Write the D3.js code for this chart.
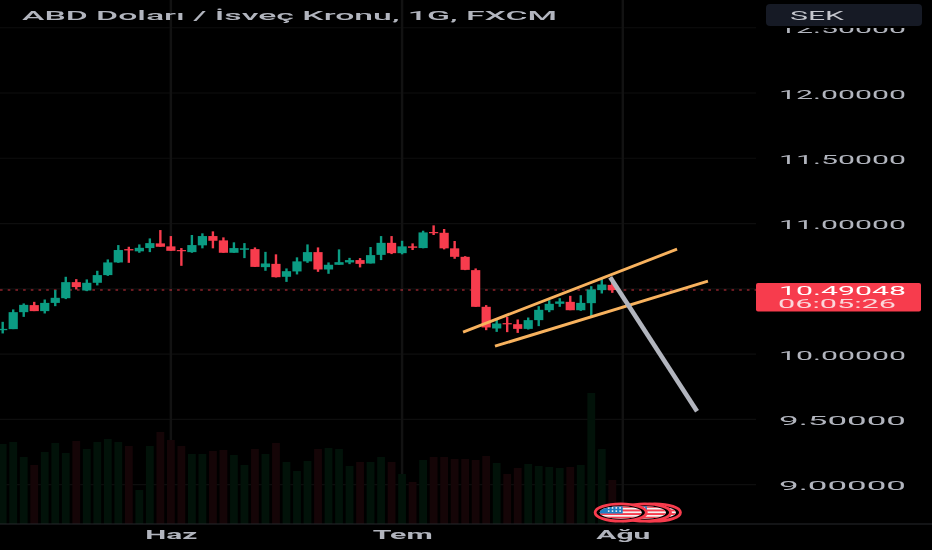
<!DOCTYPE html>
<html>
<head>
<meta charset="utf-8">
<script src="https://cdn.jsdelivr.net/npm/d3@7"></script>
<style>
html, body { margin: 0; padding: 0; background: #000; overflow: hidden; }
svg { display: block; filter: blur(0.45px); }
text { font-family: Roboto, "Liberation Sans", sans-serif; }
</style>
</head>
<body>
<div id="container"></div>
<script>
const WIDTH = 932;
const HEIGHT = 550;

// OHLC, one value per daily candle
const opens = [10.183,10.191,10.321,10.375,10.329,10.392,10.428,10.551,10.487,10.546,10.605,10.702,10.804,10.787,10.812,10.848,10.825,10.797,10.781,10.833,10.904,10.871,10.776,10.799,10.804,10.666,10.691,10.592,10.633,10.710,10.781,10.648,10.684,10.702,10.720,10.694,10.760,10.852,10.773,10.825,10.812,10.935,10.929,10.810,10.745,10.643,10.362,10.196,10.237,10.229,10.193,10.260,10.336,10.385,10.400,10.336,10.390,10.490,10.530];
const highs = [10.247,10.342,10.388,10.400,10.418,10.490,10.592,10.574,10.572,10.638,10.725,10.835,10.822,10.840,10.886,10.950,10.904,10.812,10.912,10.925,10.940,10.894,10.856,10.850,10.817,10.783,10.764,10.656,10.741,10.840,10.817,10.702,10.802,10.737,10.735,10.820,10.904,10.904,10.868,10.848,10.945,10.986,10.958,10.866,10.750,10.656,10.375,10.267,10.285,10.265,10.280,10.367,10.413,10.428,10.446,10.451,10.520,10.584,10.553];
const lows = [10.158,10.191,10.285,10.329,10.311,10.367,10.421,10.495,10.482,10.526,10.599,10.699,10.699,10.776,10.781,10.822,10.791,10.676,10.776,10.810,10.810,10.776,10.776,10.735,10.668,10.638,10.587,10.553,10.610,10.699,10.630,10.615,10.684,10.689,10.664,10.694,10.720,10.766,10.764,10.797,10.810,10.912,10.802,10.730,10.643,10.362,10.183,10.170,10.168,10.162,10.188,10.214,10.321,10.362,10.336,10.331,10.290,10.464,10.469];
const closes = [10.193,10.321,10.377,10.329,10.392,10.431,10.551,10.513,10.546,10.605,10.702,10.797,10.794,10.814,10.850,10.822,10.791,10.789,10.835,10.904,10.868,10.776,10.812,10.810,10.668,10.694,10.589,10.635,10.710,10.781,10.648,10.684,10.704,10.720,10.691,10.758,10.852,10.773,10.825,10.814,10.932,10.927,10.810,10.745,10.645,10.362,10.204,10.234,10.229,10.193,10.260,10.339,10.385,10.403,10.336,10.392,10.495,10.533,10.49048];
// relative volume
const volumes = [80,82,67,59,72,81,71,83,75,82,85,82,78,34,78,92,84,78,70,70,73,74,69,59,75,70,81,62,53,63,75,76,75,58,62,62,67,62,50,42,64,67,67,65,65,64,68,61,50,56,60,58,57,56,57,59,131,75,44];

const priceTicks = [9, 9.5, 10, 10.5, 11, 11.5, 12, 12.5];
const monthIndex = [16, 38, 59];
const monthLabels = ["Haz", "Tem", "Ağu"];
const lastPrice = 10.49048;
const countdown = "06:05:26";
const title = "ABD Doları / İsveç Kronu, 1G, FXCM";
const currency = "SEK";

// hand drawn lines on the chart: [candle index, price]
const channelUpper = [[43.8, 10.168], [64.16, 10.804]];
const channelLower = [[46.84, 10.060], [67.1, 10.559]];
const forecast = [[57.8, 10.589], [66.06, 9.562]];
// event markers sit on these candle positions
const flagIndex = [58.8, 61.1, 62.05];

const GREEN = "#0b9c83";
const RED = "#f73c4d";
const GREY = "#b2b5be";
const PANE_RIGHT = 756;
const PANE_BOTTOM = 524;

const x = d3.scaleLinear().domain([0, 58]).range([2.7, 612.3]);
const y = d3.scaleLinear().domain([9, 12]).range([484.6, 93]);
const yVol = d3.scaleLinear().domain([0, 131]).range([PANE_BOTTOM, 393]);

const svg = d3.select("#container").append("svg")
    .attr("width", WIDTH)
    .attr("height", HEIGHT);

svg.append("rect").attr("width", WIDTH).attr("height", HEIGHT).attr("fill", "#000");

const candles = d3.range(opens.length).map((i) => ({
    i, o: opens[i], h: highs[i], l: lows[i], c: closes[i], v: volumes[i], up: closes[i] >= opens[i]
}));

// grid
const grid = svg.append("g");
grid.selectAll("line.h").data(priceTicks).enter().append("line")
    .attr("x1", 0).attr("x2", PANE_RIGHT)
    .attr("y1", (d) => y(d)).attr("y2", (d) => y(d))
    .attr("stroke", "#0e0e0e").attr("stroke-width", 1.2);
grid.selectAll("line.v").data(monthIndex).enter().append("line")
    .attr("x1", (d) => x(d)).attr("x2", (d) => x(d))
    .attr("y1", 0).attr("y2", PANE_BOTTOM)
    .attr("stroke", "#121212").attr("stroke-width", 2.4);

// volume
svg.append("g").selectAll("rect").data(candles).enter().append("rect")
    .attr("x", (d) => x(d.i) - 3.9)
    .attr("width", 7.8)
    .attr("y", (d) => yVol(d.v))
    .attr("height", (d) => PANE_BOTTOM - yVol(d.v))
    .attr("fill", (d) => (d.up ? "#021209" : "#150507"));

// pane bottom border
svg.append("line")
    .attr("x1", 0).attr("x2", WIDTH)
    .attr("y1", PANE_BOTTOM).attr("y2", PANE_BOTTOM)
    .attr("stroke", "#26282d").attr("stroke-width", 1.2);

// current price line
svg.append("line")
    .attr("x1", 0).attr("x2", PANE_RIGHT)
    .attr("y1", y(lastPrice)).attr("y2", y(lastPrice))
    .attr("stroke", RED).attr("stroke-width", 1.1).attr("opacity", 0.85)
    .attr("stroke-dasharray", "2.6 5.1");

// candles
const candle = svg.append("g").selectAll("g").data(candles).enter().append("g");
candle.append("line")
    .attr("x1", (d) => x(d.i)).attr("x2", (d) => x(d.i))
    .attr("y1", (d) => y(d.h)).attr("y2", (d) => y(d.l))
    .attr("stroke", (d) => (d.up ? GREEN : RED))
    .attr("stroke-width", 2.4);
candle.append("rect")
    .attr("x", (d) => x(d.i) - 4.6)
    .attr("width", 9.2)
    .attr("y", (d) => y(Math.max(d.o, d.c)))
    .attr("height", (d) => Math.max(1.2, Math.abs(y(d.o) - y(d.c))))
    .attr("fill", (d) => (d.up ? GREEN : RED));

// drawings
const line = d3.line().x((d) => x(d[0])).y((d) => y(d[1]));
[channelUpper, channelLower].forEach((pts) => {
    svg.append("path").attr("d", line(pts))
        .attr("fill", "none").attr("stroke", "#f8b25e").attr("stroke-width", 2.9);
});
svg.append("path").attr("d", line(forecast))
    .attr("fill", "none").attr("stroke", GREY).attr("stroke-width", 4.6);

// flags, back ones first
const defs = svg.append("defs");
const flag = svg.append("g").selectAll("g").data(flagIndex.slice().reverse()).enter().append("g")
    .attr("transform", (d) => `translate(${x(d)},512.5)`);
defs.append("clipPath").attr("id", "flagClip")
    .append("ellipse").attr("rx", 21).attr("ry", 6.2);
flag.append("ellipse").attr("rx", 25.6).attr("ry", 8.6).attr("fill", "#000")
    .attr("stroke", RED).attr("stroke-width", 2.8);
const inner = flag.append("g").attr("clip-path", "url(#flagClip)");
inner.append("rect").attr("x", -22).attr("y", -7).attr("width", 44).attr("height", 14).attr("fill", "#f2f2f2");
d3.range(4).forEach((k) => {
    inner.append("rect").attr("x", -22).attr("y", -6.6 + k * 3.6).attr("width", 44).attr("height", 1.9).attr("fill", RED);
});
inner.append("rect").attr("x", -22).attr("y", -7).attr("width", 24).attr("height", 8).attr("fill", "#1e7fc4");
inner.selectAll("circle").data(d3.range(8)).enter().append("circle")
    .attr("cx", (k) => -12 + (k % 4) * 3.8)
    .attr("cy", (k) => -4.6 + Math.floor(k / 4) * 3.2)
    .attr("r", 0.95).attr("fill", "#f2f2f2");

// price axis
const yAxis = svg.append("g")
    .attr("transform", "translate(779,1)")
    .call(d3.axisRight(y).tickValues(priceTicks).tickSize(0).tickPadding(0).tickFormat(d3.format(".5f")));
yAxis.select(".domain").remove();
yAxis.selectAll("text")
    .attr("fill", GREY).attr("font-size", 12.5)
    .attr("textLength", 127).attr("lengthAdjust", "spacingAndGlyphs");

// time axis
const xAxis = svg.append("g")
    .attr("transform", `translate(0,${PANE_BOTTOM})`)
    .call(d3.axisBottom(x).tickValues(monthIndex).tickSize(0).tickPadding(6)
        .tickFormat((d, i) => monthLabels[i]));
xAxis.select(".domain").remove();
xAxis.selectAll("text")
    .attr("fill", GREY).attr("font-size", 12).attr("font-weight", 700)
    .attr("textLength", (d, i) => [52, 60, 54][i]).attr("lengthAdjust", "spacingAndGlyphs");

// title
svg.append("text").text(title)
    .attr("x", 22).attr("y", 20)
    .attr("fill", GREY).attr("font-size", 13.5).attr("font-weight", 500)
    .attr("textLength", 535).attr("lengthAdjust", "spacingAndGlyphs");

// currency button, the top tick runs in under it
svg.append("rect")
    .attr("x", 760).attr("y", 0).attr("width", 172).attr("height", 28)
    .attr("fill", "#000");
svg.append("rect")
    .attr("x", 766).attr("y", 4).attr("width", 156).attr("height", 22).attr("rx", 4)
    .attr("fill", "#161a25");
svg.append("text").text(currency)
    .attr("x", 790).attr("y", 19.5)
    .attr("fill", "#c4c6cd").attr("font-size", 13)
    .attr("textLength", 54).attr("lengthAdjust", "spacingAndGlyphs");

// last price tag
svg.append("rect")
    .attr("x", 756).attr("y", y(lastPrice) - 7).attr("width", 165).attr("height", 28.5).attr("rx", 2)
    .attr("fill", RED);
svg.append("text").text(d3.format(".5f")(lastPrice))
    .attr("x", 779).attr("y", y(lastPrice) + 5)
    .attr("fill", "#fff").attr("font-size", 13.2)
    .attr("textLength", 127).attr("lengthAdjust", "spacingAndGlyphs");
svg.append("text").text(countdown)
    .attr("x", 778).attr("y", y(lastPrice) + 18)
    .attr("fill", "#fbd7da").attr("font-size", 12)
    .attr("textLength", 118).attr("lengthAdjust", "spacingAndGlyphs");
</script>
</body>
</html>
